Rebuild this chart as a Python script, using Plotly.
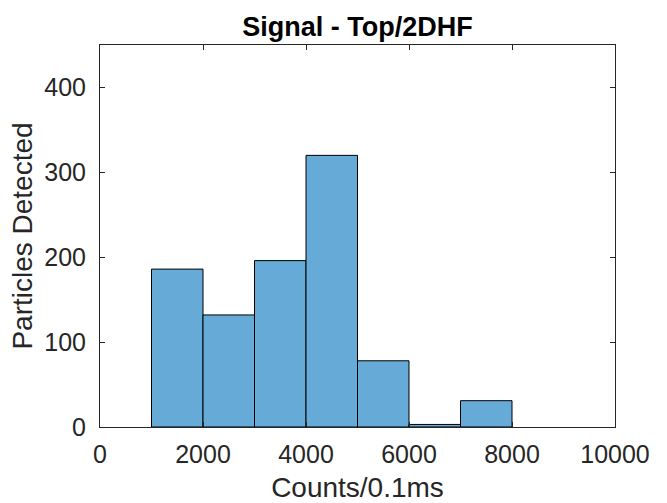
import plotly.graph_objects as go

bin_edges = [1000, 2000, 3000, 4000, 5000, 6000, 7000, 8000]
counts = [186, 132, 196, 320, 78, 3, 31]
x_ticks = [0, 2000, 4000, 6000, 8000, 10000]
y_ticks = [0, 100, 200, 300, 400]

centers = [(a + b) / 2 for a, b in zip(bin_edges[:-1], bin_edges[1:])]
widths = [b - a for a, b in zip(bin_edges[:-1], bin_edges[1:])]

FONT = "Liberation Sans, Arial, Helvetica"

fig = go.Figure(go.Bar(
    x=centers, y=counts, width=widths,
    marker=dict(color="rgb(102,170,215)", line=dict(color="black", width=1)),
))

axis_common = dict(
    showline=True, linecolor="#262626", linewidth=1, mirror="ticks",
    ticks="inside", ticklen=5, tickcolor="#262626", showgrid=False, zeroline=False,
    tickfont=dict(family=FONT, size=25, color="#262626"), automargin=False,
)

fig.update_layout(
    width=667, height=503,
    margin=dict(l=100, r=52, t=45, b=76, autoexpand=False),
    plot_bgcolor="white", paper_bgcolor="white",
    showlegend=False,
    title=dict(text="<b>Signal - Top/2DHF</b>", x=0.5, xanchor="center",
               xref="paper", y=1, yref="paper", yanchor="bottom", pad=dict(b=9),
               automargin=False,
               font=dict(family=FONT, size=27, color="black")),
    xaxis=dict(range=[0, 10000], tickvals=x_ticks, ticktext=[str(v) for v in x_ticks],
               ticklabelstandoff=5,
               title=dict(text="Counts/0.1ms", standoff=12,
                          font=dict(family=FONT, size=28, color="#262626")),
               **axis_common),
    yaxis=dict(range=[0, 450], tickvals=y_ticks, ticktext=[str(v) for v in y_ticks],
               ticklabelstandoff=8,
               title=dict(text="Particles Detected", standoff=3,
                          font=dict(family=FONT, size=28, color="#262626")),
               **axis_common),
)

fig.write_html("out.html")
